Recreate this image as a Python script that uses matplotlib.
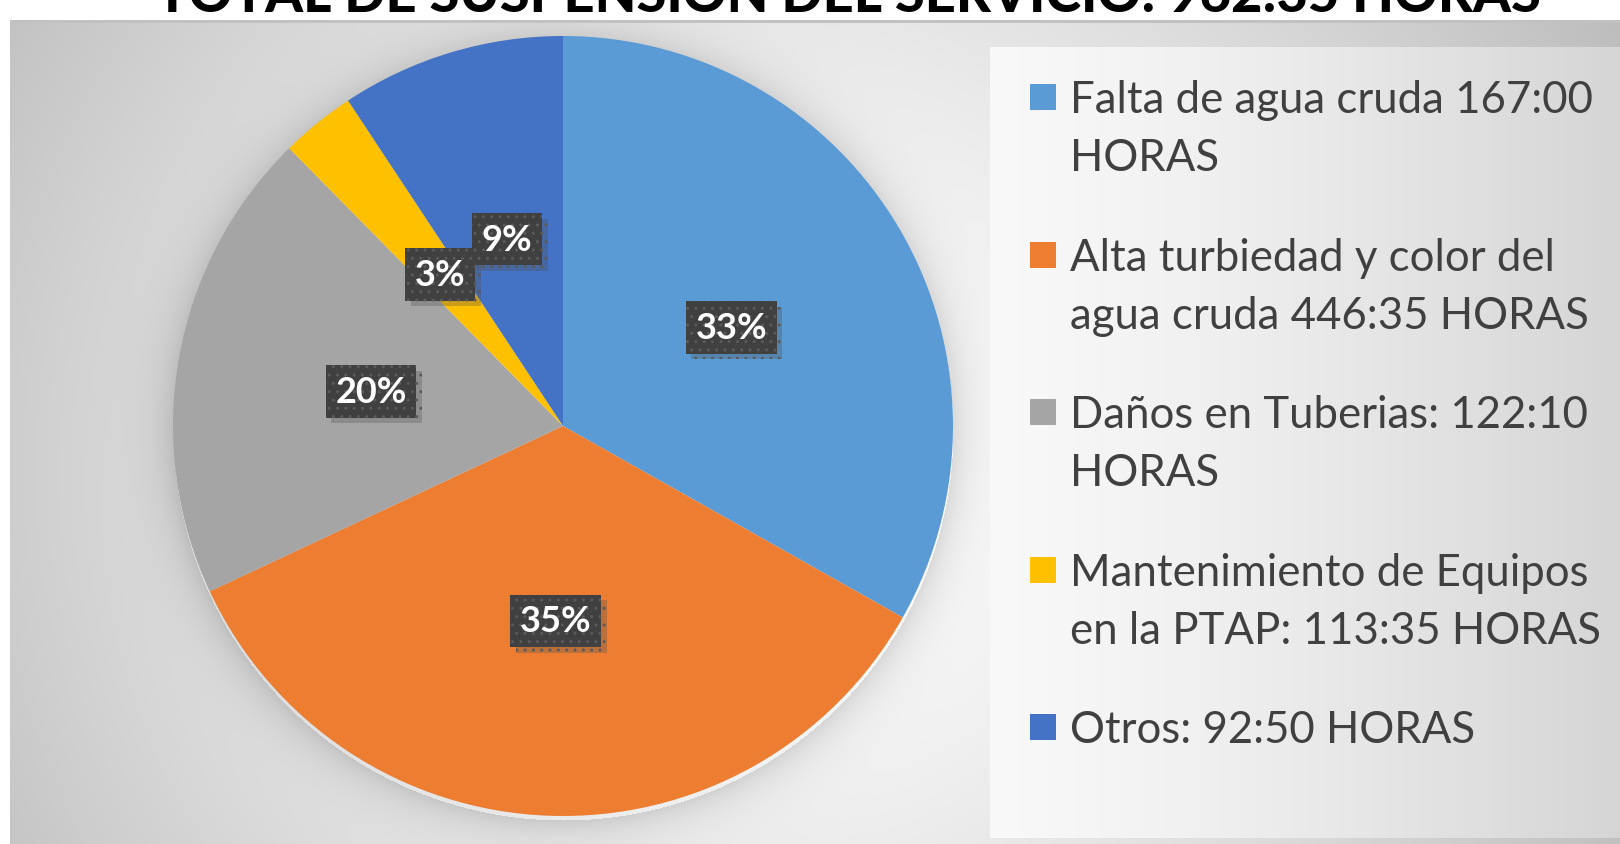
import numpy as np
import matplotlib
matplotlib.use('Agg')
import matplotlib.pyplot as plt
import matplotlib.patheffects as pe
from matplotlib.patches import Rectangle

plt.rcParams['font.family'] = ['Lato', 'DejaVu Sans']

# data
categories = [
    'Falta de agua cruda 167:00\nHORAS',
    'Alta turbiedad y color del\nagua cruda 446:35 HORAS',
    'Daños en Tuberias: 122:10\nHORAS',
    'Mantenimiento de Equipos\nen la PTAP: 113:35 HORAS',
    'Otros: 92:50 HORAS',
]
shares = [33.2, 34.9, 19.6, 3.1, 9.3]
colors = ['#5B9BD5', '#ED7D31', '#A5A5A5', '#FFC000', '#4472C4']
title = 'TOTAL DE SUSPENSION DEL SERVICIO: 962:35 HORAS'

W, H = 1620, 845
fig = plt.figure(figsize=(W / 100, H / 100), dpi=100)

# background: white page, grey radial panel, lighter legend box, soft pie halo
yy, xx = np.mgrid[0:H, 0:W].astype(float)
bg = np.ones((H, W))
panel = (xx >= 10) & (yy >= 22)
d = np.hypot(xx - 780, yy - 470)
bg[panel] = np.clip(1 - 0.24 * (d[panel] / 900) ** 1.4, 0.74, 1)
cx, cy, R = 563, 427, 390
dp = np.hypot(xx - cx, (yy - cy - 4))
halo = np.where(dp > R, 0.12 * np.exp(-(dp - R) / 20), 0)
bg = bg - halo * panel
leg = (xx >= 990) & (yy >= 48) & (yy <= 838)
bg[leg] = 0.975 - 0.14 * ((xx[leg] - 990) / 630) ** 1.3
bg[(yy >= 21) & (yy <= 23) & (xx >= 10)] = 0.76
bax = fig.add_axes([0, 0, 1, 1])
bax.imshow(np.dstack([bg] * 3), aspect='auto', interpolation='bilinear')
bax.axis('off')

# pie
ax = fig.add_axes([(cx - R) / W, (H - cy - R) / H, 2 * R / W, 2 * R / H])
wedges, texts, autotexts = ax.pie(
    shares, colors=colors, startangle=90, counterclock=False, radius=1,
    autopct='%.0f%%', pctdistance=0.5,
    wedgeprops=dict(linewidth=0),
    textprops=dict(color='white', fontsize=26, fontweight='bold'))
ax.set_xlim(-1, 1)
ax.set_ylim(-1, 1)
ax.axis('off')
for t in autotexts:
    t.set_bbox(dict(boxstyle='square,pad=0.27', facecolor='#404040',
                    edgecolor='#5a5a5a', linewidth=0, hatch='..'))
    t.get_bbox_patch().set_path_effects(
        [pe.SimplePatchShadow(offset=(4, -4), shadow_rgbFace='#505050', alpha=0.3),
         pe.Normal()])

# legend, drawn like the Excel one (marker aligned with first line)
for i, (lab, col) in enumerate(zip(categories, colors)):
    yc = 98 + i * 157.6
    fig.patches.append(Rectangle((1030 / W, (H - yc - 13) / H), 26 / W, 26 / H,
                                 transform=fig.transFigure, facecolor=col,
                                 edgecolor='none'))
    fig.text(1070 / W, (H - yc + 18) / H, lab, fontsize=31.5, color='#404040',
             va='top', ha='left', linespacing=1.52)

# title, cut off by the top edge as in the original
fig.text(848 / W, 1 - 12 / H, title, fontsize=39, fontweight='black',
         ha='center', va='baseline', color='black')

fig.savefig('out.png', dpi=100)
